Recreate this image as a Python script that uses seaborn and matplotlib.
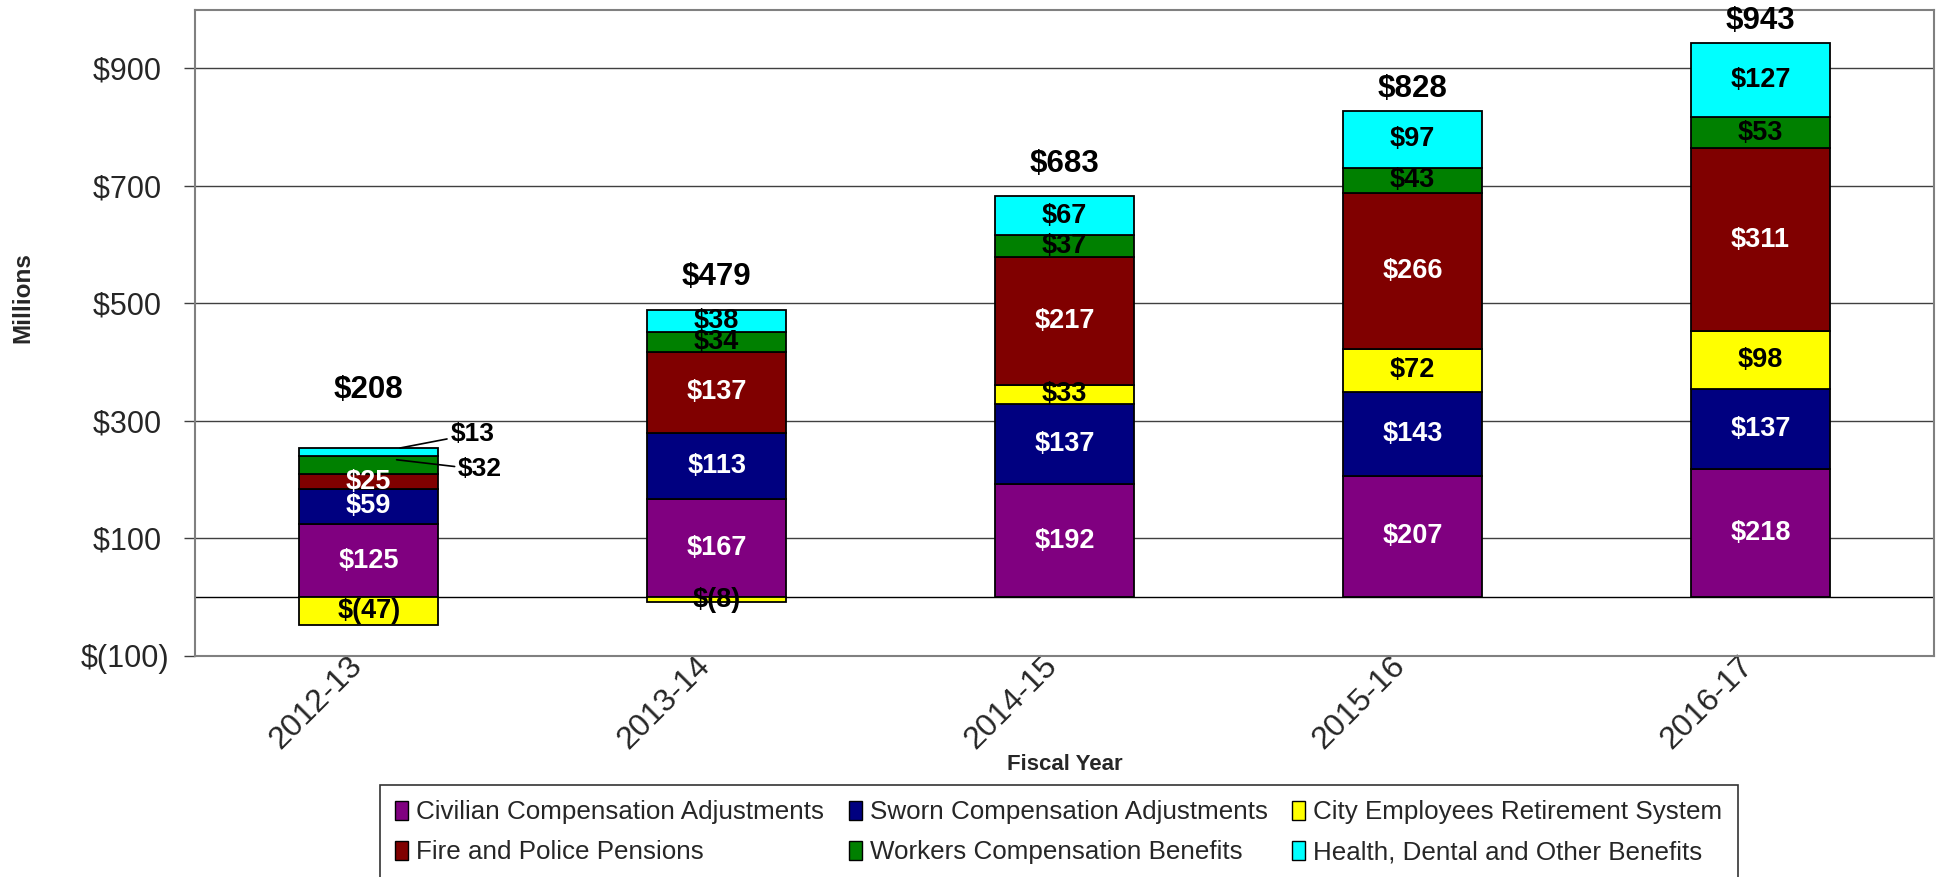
import numpy as np
import pandas as pd
import seaborn as sns
import matplotlib.pyplot as plt
import matplotlib.transforms as mtransforms
from matplotlib.patches import Patch

years = ["2012-13", "2013-14", "2014-15", "2015-16", "2016-17"]
civilian = [125, 167, 192, 207, 218]
sworn = [59, 113, 137, 143, 137]
cers = [-47, -8, 33, 72, 98]
pensions = [25, 137, 217, 266, 311]
workers = [32, 34, 37, 43, 53]
health = [13, 38, 67, 97, 127]
totals = [208, 479, 683, 828, 943]

names = ["Civilian Compensation Adjustments", "Sworn Compensation Adjustments",
         "City Employees Retirement System", "Fire and Police Pensions",
         "Workers Compensation Benefits", "Health, Dental and Other Benefits"]
series = [civilian, sworn, cers, pensions, workers, health]
colors = ["#800080", "#000080", "#FFFF00", "#800000", "#008000", "#00FFFF"]
text_colors = ["white", "white", "black", "white", "black", "black"]

sns.set_theme(style="white")
plt.rcParams["font.family"] = ["Liberation Sans", "DejaVu Sans"]

fig = plt.figure(figsize=(19.48, 8.77), dpi=100)
ax = fig.add_axes([0.100, 0.252, 0.893, 0.737])

# grid first so bars sit on top
for v in range(-100, 1000, 200):
    ax.axhline(v, color="#404040", lw=1.0, zorder=0)
ax.axhline(0, color="black", lw=1.0, zorder=0)

pos_base = np.zeros(len(years))
neg_base = np.zeros(len(years))
# labels drawn outside with leader lines (year index, series index): (xy, offset pts)
callouts = {(0, 5): ((0.09, 254), (52, 10)), (0, 4): ((0.08, 234), (60, -7))}

for si, vals in enumerate(series):
    vals = np.array(vals, dtype=float)
    bottoms = np.where(vals >= 0, pos_base, neg_base)
    sns.barplot(x=years, y=vals, bottom=bottoms, color=colors[si], saturation=1,
                width=0.4, edgecolor="black", linewidth=1.3, errorbar=None,
                ax=ax, zorder=2)
    for i, v in enumerate(vals):
        txt = "$%d" % v if v >= 0 else "$(%d)" % -v
        if (i, si) in callouts:
            xy, off = callouts[(i, si)]
            ax.annotate(txt, xy=xy, xytext=off, textcoords="offset points",
                        ha="center", va="center", fontsize=19, fontweight="bold",
                        color="black", zorder=5,
                        arrowprops=dict(arrowstyle="-", color="black", lw=1.2,
                                        shrinkA=0, shrinkB=0))
        else:
            ax.text(i, bottoms[i] + v / 2, txt, ha="center", va="center",
                    fontsize=19.5, fontweight="bold", color=text_colors[si], zorder=5)
    pos_base = np.where(vals >= 0, pos_base + vals, pos_base)
    neg_base = np.where(vals < 0, neg_base + vals, neg_base)

total_offsets = [31, 13, 12, 5, 5]
for i, t in enumerate(totals):
    ax.annotate("$%d" % t, xy=(i, pos_base[i]), xytext=(0, total_offsets[i]),
                textcoords="offset points", ha="center", va="bottom",
                fontsize=22.5, fontweight="bold", color="black")

ax.set_xlim(-0.5, 4.5)
ax.set_ylim(-100, 1000)
yt = list(range(-100, 1000, 200))
ax.set_yticks(yt)
ax.set_yticklabels(["$(100)" if v < 0 else "$%d " % v for v in yt], fontsize=22)
ax.set_xticks(range(len(years)))
ax.set_xticklabels(years, rotation=45, ha="right", rotation_mode="anchor", fontsize=23)
ax.tick_params(axis="y", which="major", direction="out", length=8, width=1,
               color="#404040", pad=10, left=True)
ax.tick_params(axis="x", length=0, pad=0)
shift = mtransforms.ScaledTranslation(-0.22, 0.05, fig.dpi_scale_trans)
for lab in ax.get_xticklabels():
    lab.set_transform(lab.get_transform() + shift)

for s in ax.spines.values():
    s.set_color("#808080")
    s.set_linewidth(1.5)

ax.set_xlabel("Fiscal Year", fontsize=16, fontweight="bold")
ax.xaxis.set_label_coords(0.5, -0.152)
ax.set_ylabel("Millions", fontsize=17.5, fontweight="bold")
ax.yaxis.set_label_coords(-0.092, 0.555)

handles = [Patch(facecolor=c, edgecolor="black", lw=1) for c in colors]
order = [0, 3, 1, 4, 2, 5]
leg = fig.legend([handles[k] for k in order], [names[k] for k in order],
                 ncol=3, loc="upper center", bbox_to_anchor=(0.5435, 0.105),
                 fontsize=18.7, frameon=True, fancybox=False, edgecolor="black",
                 handlelength=0.5, handleheight=0.75, handletextpad=0.3,
                 columnspacing=0.95, labelspacing=0.6, borderpad=0.6,
                 borderaxespad=0)
leg.get_frame().set_linewidth(1.2)

fig.savefig("out.png", dpi=100, facecolor="white")
